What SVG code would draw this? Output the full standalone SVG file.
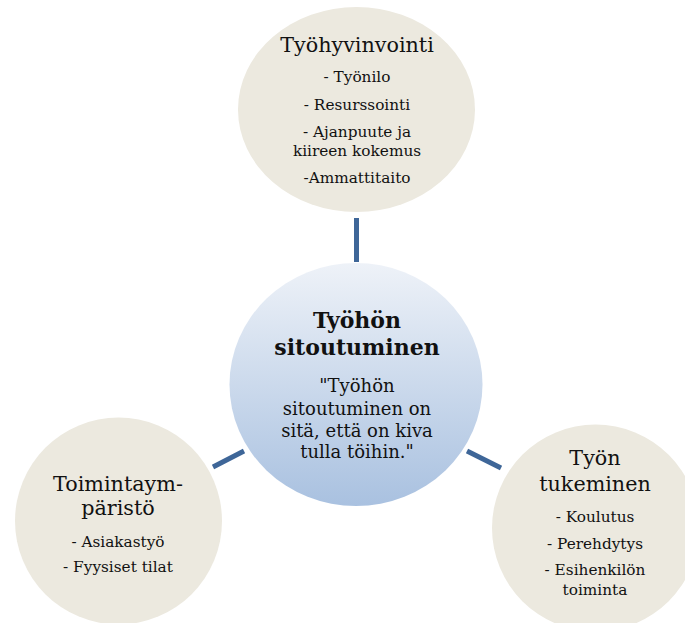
<svg xmlns="http://www.w3.org/2000/svg" width="685" height="623" viewBox="0 0 685 623">
<defs>
<linearGradient id="cg" x1="0" y1="0" x2="0" y2="1">
<stop offset="0" stop-color="#EEF2F8"/>
<stop offset="1" stop-color="#A9C1E0"/>
</linearGradient>
<style>
.side{fill:#ECE9DF}
.conn{stroke:#3E6698;stroke-width:5;fill:none}
text{font-family:"DejaVu Serif","Liberation Serif",serif;fill:#111;text-anchor:middle}
.h{font-size:20.7px}
.s{font-size:15.3px}
.cb{font-size:22px;font-weight:bold}
.cq{font-size:18px}
</style>
</defs>
<rect width="685" height="623" fill="#fff"/>
<g id="connectors">
<line class="conn" x1="356.5" y1="218" x2="356.5" y2="262"/>
<line class="conn" x1="213" y1="467" x2="244" y2="451"/>
<line class="conn" x1="467" y1="451" x2="501" y2="468"/>
</g>
<g id="top">
<ellipse class="side" cx="356.5" cy="109.5" rx="118.5" ry="102.5"/>
<text class="h" x="357" y="52">Työhyvinvointi</text>
<text class="s" x="357" y="82">- Työnilo</text>
<text class="s" x="357" y="110">- Resurssointi</text>
<text class="s" x="357" y="137">- Ajanpuute ja</text>
<text class="s" x="357" y="156">kiireen kokemus</text>
<text class="s" x="357" y="183">-Ammattitaito</text>
</g>
<g id="center">
<ellipse cx="356" cy="384.5" rx="126.5" ry="121.5" fill="url(#cg)"/>
<text class="cb" x="357" y="328">Työhön</text>
<text class="cb" x="357" y="355">sitoutuminen</text>
<text class="cq" x="357" y="392">"Työhön</text>
<text class="cq" x="357" y="415">sitoutuminen on</text>
<text class="cq" x="357" y="437">sitä, että on kiva</text>
<text class="cq" x="357" y="458">tulla töihin."</text>
</g>
<g id="left">
<circle class="side" cx="118.5" cy="521" r="103.5"/>
<text class="h" x="118" y="491">Toimintaym-</text>
<text class="h" x="118" y="515">päristö</text>
<text class="s" x="118" y="547">- Asiakastyö</text>
<text class="s" x="118" y="572">- Fyysiset tilat</text>
</g>
<g id="right">
<circle class="side" cx="595.5" cy="528" r="103.5"/>
<text class="h" x="595" y="465">Työn</text>
<text class="h" x="595" y="491">tukeminen</text>
<text class="s" x="595" y="522">- Koulutus</text>
<text class="s" x="595" y="549">- Perehdytys</text>
<text class="s" x="595" y="575">- Esihenkilön</text>
<text class="s" x="595" y="595">toiminta</text>
</g>
</svg>
